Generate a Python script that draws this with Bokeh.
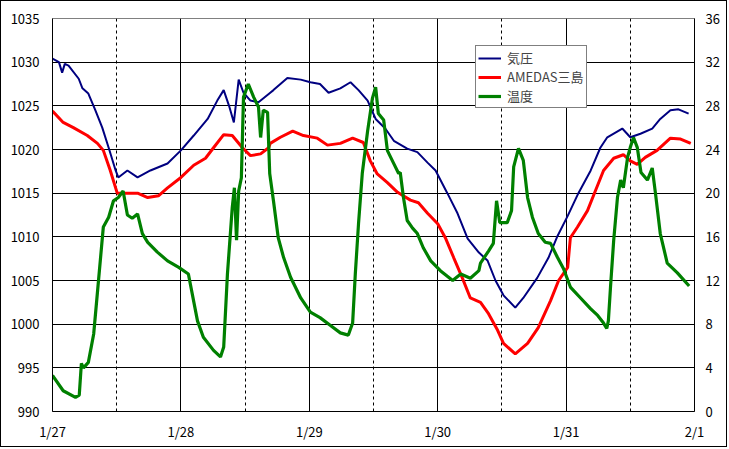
from bokeh.plotting import figure
from bokeh.models import FixedTicker, LinearAxis, Range1d, Legend, LegendItem
from bokeh.embed import file_html
from bokeh.resources import INLINE

# hours since 1/27 00:00
p_hours = [0, 1.2, 1.8, 2.3, 3, 4.9, 5.6, 6.7, 8, 9.3, 10.5, 11.8, 12.3, 14, 15.9, 18.3, 21.5, 24, 26.4, 29,
           30.8, 32, 33, 33.9, 34.8, 35.7, 37, 38.5, 40.7, 41.3, 43.9, 46.4, 48.2, 50, 51.6, 53.8,
           55.7, 57.2, 58.9, 60.4, 62.2, 63.8, 66.3, 68.2, 70.1, 71.6, 73.8, 75.7, 77.6, 79.7,
           81.3, 82.8, 84.3, 86.5, 88, 90.6, 92.7, 94.4, 96.3, 98.3, 100.6, 102.4, 103.7, 106.5,
           108, 109.9, 112.1, 113.6, 115.5, 117, 118.9]
pressure = [1030.4, 1030.0, 1028.8, 1029.8, 1029.6, 1028.1, 1027.0, 1026.4, 1024.5, 1022.5, 1020.2, 1017.6,
            1016.8, 1017.6, 1016.8, 1017.6, 1018.4, 1019.9, 1021.6, 1023.5, 1025.6, 1026.8, 1025.0,
            1023.1, 1028.0, 1026.5, 1025.6, 1025.4, 1026.5, 1026.8, 1028.2, 1028.0, 1027.7, 1027.5,
            1026.5, 1027.0, 1027.7, 1026.8, 1025.6, 1023.5, 1022.4, 1021.0, 1020.1, 1019.7, 1018.5,
            1017.6, 1015.0, 1012.7, 1009.8, 1008.2, 1007.3, 1005.0, 1003.3, 1001.9, 1003.0, 1005.3,
            1007.6, 1010.1, 1012.4, 1015.0, 1017.6, 1020.2, 1021.4, 1022.4, 1021.4, 1021.8, 1022.4,
            1023.5, 1024.5, 1024.6, 1024.1]

m_hours = [0, 2, 3.9, 6.5, 8.4, 9.5, 10.8, 12.1, 14, 15.9, 17.8, 19.8, 21.5, 24, 26.4, 28.6, 30.1,
           32, 33.6, 35.5, 37, 38.9, 40.4, 40.7, 42.6, 44.9, 46.9, 49.5, 51.4, 53.8, 56.1, 58.1,
           59.4, 60.7, 62.6, 64.5, 66.9, 68.4, 70.1, 72, 73.5, 75, 76.6, 78.1, 80, 81.5, 83.2,
           84.3, 86.5, 88.8, 90.8, 93.1, 94.6, 96.3, 96.8, 98.1, 100, 101.5, 103, 104.9, 106.7,
           108, 109.3, 110.8, 113, 115.5, 117.4, 119.3]
mishima = [1024.4, 1023.1, 1022.5, 1021.6, 1020.7, 1019.9, 1017.6, 1015.0, 1015.0, 1015.0, 1014.5,
           1014.7, 1015.6, 1016.8, 1018.2, 1019.0, 1020.2, 1021.7, 1021.6, 1020.2, 1019.3, 1019.5,
           1020.2, 1020.7, 1021.4, 1022.1, 1021.6, 1021.3, 1020.5, 1020.7, 1021.3, 1020.8, 1018.7,
           1017.2, 1016.2, 1015.1, 1014.2, 1013.9, 1012.7, 1011.5, 1009.8, 1007.6, 1005.3, 1003.0,
           1002.5, 1001.2, 999.3, 997.8, 996.6, 997.8, 999.6, 1002.7, 1005.0, 1006.5, 1009.9,
           1011.1, 1013.0, 1015.3, 1017.6, 1019.0, 1019.4, 1018.7, 1018.3, 1019.1, 1019.9, 1021.3,
           1021.2, 1020.7]

t_hours = [0, 2, 4.3, 5, 5.4, 5.8, 6.7, 7.7, 8.6, 9.5, 10.5, 11.4, 12.3, 13.2, 14, 14.9, 15.9, 16.8,
           17.8, 19.6, 21.5, 23.6, 25.4, 27.1, 28.2, 30.1, 31.4, 32, 32.7, 33.6, 34, 34.4, 34.8,
           35.3, 35.7, 36.6, 37.6, 38.5, 38.9, 39.4, 40.2, 40.6, 41.3, 42.2, 43.2, 44.5, 46.4,
           48.2, 50, 51.9, 53.8, 55.3, 56.1, 56.6, 57.2, 57.9, 58.9, 59.8, 60.4, 60.9, 61.9, 62.6,
           63.7, 64.7, 65, 65.6, 66.3, 67.3, 68.2, 69.3, 70.7, 72.5, 74.8, 76.3, 78.1, 79.7, 80,
           81.5, 82.4, 83, 83.6, 85, 85.8, 86.2, 87.1, 88, 88.8, 89.7, 90.8, 92.1, 93.1, 94.4,
           95.5, 96.8, 98.7, 100.6, 101.9, 103, 103.6, 103.9, 104.3, 104.9, 105.6, 106.2, 106.7,
           107.5, 108, 108.6, 109.3, 110, 111.2, 112.1, 112.7, 113.6, 114.9, 116.8, 119]
temperature = [3.3, 1.9, 1.3, 1.5, 4.4, 4.0, 4.5, 7.1, 12.0, 16.9, 17.8, 19.3, 19.6, 20.2, 18.0, 17.7,
               18.1, 16.3, 15.5, 14.6, 13.8, 13.2, 12.6, 8.3, 6.8, 5.6, 5.0, 5.9, 12.6, 18.7, 20.5,
               15.7, 20.2, 21.4, 28.8, 30.0, 28.8, 27.9, 25.1, 27.6, 27.4, 21.8, 19.3, 15.9, 14.1,
               12.3, 10.4, 9.1, 8.6, 7.9, 7.2, 7.0, 8.1, 12.6, 17.2, 21.8, 25.7, 28.7, 29.7, 27.3,
               26.7, 23.9, 22.8, 21.8, 21.9, 19.6, 17.5, 16.8, 16.3, 15.0, 13.8, 12.9, 12.0, 12.6,
               12.2, 12.9, 13.6, 14.7, 15.4, 19.3, 17.3, 17.3, 18.4, 22.4, 24.1, 23.0, 19.6, 17.8,
               16.3, 15.5, 15.4, 14.1, 13.1, 11.4, 10.4, 9.4, 8.8, 8.1, 7.6, 8.3, 11.4, 15.7, 19.6,
               21.2, 20.5, 23.3, 24.2, 25.1, 24.2, 21.9, 21.2, 22.3, 20.0, 16.3, 13.6, 12.7, 11.5]

day_ticks = [0, 1, 2, 3, 4, 5]
day_labels = ["1/27", "1/28", "1/29", "1/30", "1/31", "2/1"]
noon_ticks = [0.5, 1.5, 2.5, 3.5, 4.5]
left_ticks = [990, 995, 1000, 1005, 1010, 1015, 1020, 1025, 1030, 1035]
right_ticks = [0, 4, 8, 12, 16, 20, 24, 28, 32, 36]
series_names = ["気圧", "AMEDAS三島", "温度"]

FONT = "Noto Sans CJK JP"

p = figure(width=727, height=447, output_backend="svg", toolbar_location=None,
           x_range=Range1d(0, 5), y_range=Range1d(990, 1035),
           min_border_left=51, min_border_right=34, min_border_top=17, min_border_bottom=37)
p.styles = {"border": "1px solid black"}
p.extra_y_ranges = {"temp": Range1d(0, 36)}
p.outline_line_color = "#808080"
p.background_fill_color = "white"
p.border_fill_color = "white"

to_days = lambda hs: [h / 24.0 for h in hs]

r1 = p.line(to_days(p_hours), pressure, line_color="#000080", line_width=2)
r2 = p.line(to_days(m_hours), mishima, line_color="#FF0000", line_width=3)
r3 = p.line(to_days(t_hours), temperature, line_color="#008000", line_width=3.2, y_range_name="temp")

xt = FixedTicker(ticks=day_ticks, minor_ticks=noon_ticks)
p.xaxis.ticker = xt
p.xaxis.major_label_overrides = {t: l for t, l in zip(day_ticks, day_labels)}
p.yaxis.ticker = FixedTicker(ticks=left_ticks)

right = LinearAxis(y_range_name="temp", ticker=FixedTicker(ticks=right_ticks))
p.add_layout(right, "right")

for ax in [p.xaxis[0], p.yaxis[0], right]:
    ax.major_tick_line_color = None
    ax.minor_tick_line_color = None
    ax.major_tick_out = 0
    ax.major_tick_in = 0
    ax.minor_tick_out = 0
    ax.minor_tick_in = 0
    ax.axis_line_color = "black"
    ax.axis_line_width = 1
    ax.major_label_text_font = FONT
    ax.major_label_text_font_size = "13px"
    ax.major_label_text_color = "black"
p.xaxis[0].major_label_standoff = 10
p.yaxis[0].major_label_standoff = 13
right.major_label_standoff = 11

p.xgrid.ticker = xt
p.xgrid.grid_line_color = "black"
p.xgrid.grid_line_width = 1
p.xgrid.minor_grid_line_color = "black"
p.xgrid.minor_grid_line_dash = "3 3"
p.xgrid.minor_grid_line_width = 1
p.ygrid.grid_line_color = "black"
p.ygrid.grid_line_width = 1

legend = Legend(items=[LegendItem(label=series_names[0], renderers=[r1]),
                       LegendItem(label=series_names[1], renderers=[r2]),
                       LegendItem(label=series_names[2], renderers=[r3])],
                location=(423, 303))
legend.border_line_color = "black"
legend.border_line_width = 1
legend.background_fill_color = "white"
legend.background_fill_alpha = 1
legend.label_text_font = FONT
legend.label_text_font_size = "13px"
legend.glyph_width = 23
legend.glyph_height = 14
legend.label_height = 14
legend.label_standoff = 6
legend.spacing = 0
legend.padding = 2
legend.margin = 0
p.add_layout(legend, "center")

open("out.html", "w").write(file_html(p, INLINE))
